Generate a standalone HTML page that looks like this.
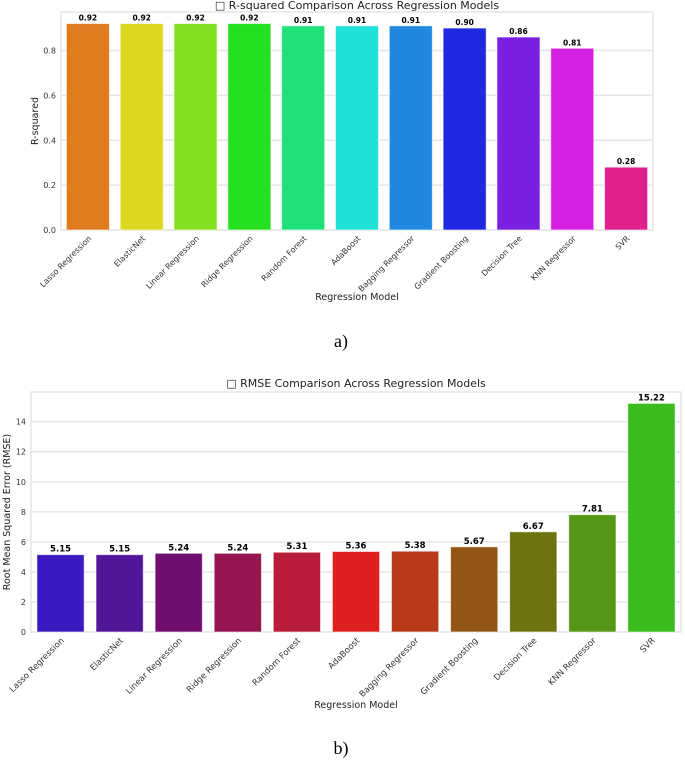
<!DOCTYPE html>
<html><head><meta charset="utf-8"><style>
body{margin:0;background:#fff;}
svg{display:block;font-family:"DejaVu Sans","Liberation Sans",sans-serif;}
</style></head><body>
<svg id="c" width="685" height="760"></svg>
<script>
const categories=["Lasso Regression","ElasticNet","Linear Regression","Ridge Regression","Random Forest","AdaBoost","Bagging Regressor","Gradient Boosting","Decision Tree","KNN Regressor","SVR"];
const r2Values=[0.92,0.92,0.92,0.92,0.91,0.91,0.91,0.90,0.86,0.81,0.28];
const r2Labels=["0.92","0.92","0.92","0.92","0.91","0.91","0.91","0.90","0.86","0.81","0.28"];
const r2Ticks=[0,0.2,0.4,0.6,0.8];
const r2TickLabels=["0.0","0.2","0.4","0.6","0.8"];
const rmseValues=[5.15,5.15,5.24,5.24,5.31,5.36,5.38,5.67,6.67,7.81,15.22];
const rmseLabels=["5.15","5.15","5.24","5.24","5.31","5.36","5.38","5.67","6.67","7.81","15.22"];
const rmseTicks=[0,2,4,6,8,10,12,14];
const rmseTickLabels=["0","2","4","6","8","10","12","14"];
const colorsTop=["#e07b20","#dcd81f","#82e020","#24e020","#20e07a","#20e0d8","#2088e0","#2027e0","#7a20e0","#d420e0","#e0208c"];
const colorsBot=["#3a1ac0","#52169a","#700f6e","#951550","#b91b3a","#df2020","#b93a1a","#935515","#6e720f","#559716","#3abc1c"];
const svg=document.getElementById('c');
const NS="http://www.w3.org/2000/svg";
function mk(tag,attrs,parent,text){const e=document.createElementNS(NS,tag);for(const k in attrs)e.setAttribute(k,attrs[k]);if(text!==undefined)e.textContent=text;(parent||svg).appendChild(e);return e;}
function chart(cfg){
  const g=mk('g',{});
  
  
  const {x0,x1,yTop,yBot,max}=cfg;
  const y=v=>yBot-(v/max)*(yBot-cfg.yRefTop);
  const pitch=(x1-x0)/categories.length;
  const xb=i=>x0+pitch*i+pitch*0.1;
  const bw=pitch*0.8;
  const frame=mk('rect',{x:x0,y:yTop,width:x1-x0,height:yBot-yTop,fill:"#fff",stroke:"#e6e6e6","stroke-width":1.5},g);
  
  
  cfg.ticks.forEach((t,i)=>{
    const gl=mk('line',{x1:x0,x2:x1,y1:y(t),y2:y(t),stroke:"#e6e6e6","stroke-width":1.5},g);
    
    
    const tl=mk('text',{x:x0-5,y:y(t)+3,"text-anchor":"end","font-size":8,fill:"#333"},g,cfg.tickLabels[i]);
    
    
  });
  cfg.values.forEach((v,i)=>{
    const r=mk('rect',{x:xb(i),y:y(v),width:bw,height:yBot-y(v),fill:cfg.colors[i],stroke:"rgba(255,255,255,0.6)","stroke-width":1},g);
    
    
    const vl=mk('text',{x:xb(i)+bw/2,y:y(v)-3,"text-anchor":"middle","font-size":cfg.valSize,"font-weight":"bold",fill:"#000"},g,cfg.labels[i]);
    
    
    const cx=xb(i)+bw/2+4, cy=yBot+9;
    const xl=mk('text',{x:cx,y:cy,"text-anchor":"end","font-size":cfg.xSize,fill:"#333",transform:`rotate(-45 ${cx} ${cy})`},g,categories[i]);
    
    
  });
  const t=mk('text',{x:(x0+x1)/2,y:cfg.titleY,"text-anchor":"middle","font-size":11,fill:"#222"},g,cfg.title);
  
  const xt=mk('text',{x:(x0+x1)/2,y:cfg.xlabY,"text-anchor":"middle","font-size":9.5,fill:"#222"},g,"Regression Model");
  
  const yt=mk('text',{x:cfg.ylabX,y:(yTop+yBot)/2,"text-anchor":"middle","font-size":9.5,fill:"#222",transform:`rotate(-90 ${cfg.ylabX} ${(yTop+yBot)/2})`},g,cfg.ylab);
  
}
chart({name:'r-squared-chart',x0:61,x1:653,yTop:12,yBot:230,yRefTop:50.5,max:0.8,values:r2Values,labels:r2Labels,ticks:r2Ticks,tickLabels:r2TickLabels,colors:colorsTop,title:"\u25A1 R-squared Comparison Across Regression Models",titleY:9,xlabY:300,ylab:"R-squared",ylabX:38,valSize:7.5,xSize:8});
chart({name:'rmse-chart',x0:31,x1:681,yTop:392,yBot:632,yRefTop:421.7,max:14,values:rmseValues,labels:rmseLabels,ticks:rmseTicks,tickLabels:rmseTickLabels,colors:colorsBot,title:"\u25A1 RMSE Comparison Across Regression Models",titleY:387,xlabY:708,ylab:"Root Mean Squared Error (RMSE)",ylabX:10,valSize:8.5,xSize:8.5});
const a=mk('text',{x:341,y:347,"text-anchor":"middle","font-size":18,"font-family":"Liberation Serif,serif",fill:"#000"},svg,"a)");

const b=mk('text',{x:341,y:754,"text-anchor":"middle","font-size":18,"font-family":"Liberation Serif,serif",fill:"#000"},svg,"b)");

</script>
</body></html>
